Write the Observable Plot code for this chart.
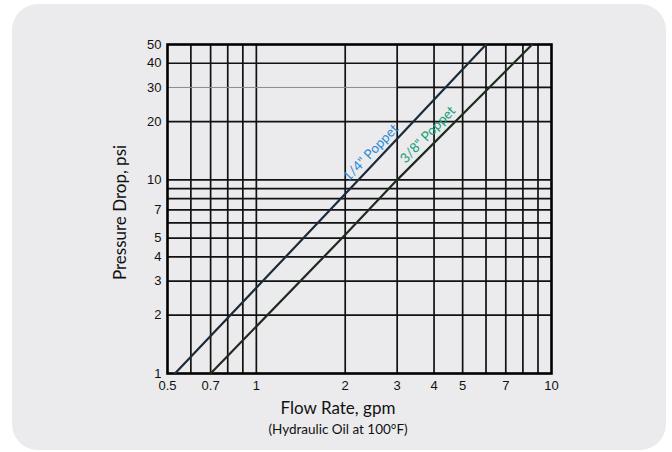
<!DOCTYPE html>
<html>
<head>
<meta charset="utf-8">
<script src="https://cdn.jsdelivr.net/npm/d3@7"></script>
<script src="https://cdn.jsdelivr.net/npm/@observablehq/plot@0.6"></script>
<style>
  html, body { margin: 0; padding: 0; background: #ffffff; }
  #wrap { position: relative; width: 672px; height: 452px; overflow: hidden; }
  #card { position: absolute; left: 12px; top: 4px; width: 654px; height: 446px; background: #ebebed; border-radius: 26px; }
  #chart { position: absolute; left: 0; top: 0; }
</style>
</head>
<body>
<div id="wrap"><div id="card"></div><div id="chart"></div></div>
<script>
// Tick labels
const flowTicks = [0.5, 0.7, 1, 2, 3, 4, 5, 7, 10];
const dropTicks = [1, 2, 3, 4, 5, 7, 10, 20, 30, 40, 50];
// Grid lines
const flowGrid = [0.6, 0.7, 0.8, 0.9, 1, 2, 3, 4, 5, 6, 7, 8, 9];
const dropGrid = [2, 3, 4, 5, 6, 7, 8, 9, 10, 20, 40];
const drop30 = [30];
const drop30GrayFrom = [0.5], drop30GrayTo = [3];
const drop30BlackFrom = [3], drop30BlackTo = [10];
// Series
const quarterFlow = [0.53, 1, 2.22, 6.0];
const quarterDrop = [1, 2.77, 10, 50];
const eighthFlow = [0.7, 2, 3.0, 8.6];
const eighthDrop = [1, 5.2, 10, 50];
// Series labels
const seriesNames = ["1/4\" Poppet", "3/8\" Poppet"];
const labelFlow = [2.44, 3.81];
const labelDrop = [13.8, 17.1];
const seriesColors = ["#2a8ad4", "#14a074"];
const lineColors = ["#1b2b3b", "#1f2b1f"];

const quarter = quarterFlow.map((x, i) => ({x, y: quarterDrop[i]}));
const eighth = eighthFlow.map((x, i) => ({x, y: eighthDrop[i]}));
const labels = seriesNames.map((t, i) => ({t, x: labelFlow[i], y: labelDrop[i], c: seriesColors[i]}));
const seg30gray = drop30.map((y, i) => ({y, x1: drop30GrayFrom[i], x2: drop30GrayTo[i]}));
const seg30black = drop30.map((y, i) => ({y, x1: drop30BlackFrom[i], x2: drop30BlackTo[i]}));

const titleFont = "Lato, 'Open Sans', sans-serif";
const tickFont = "'Liberation Sans', Arial, sans-serif";

const chart = Plot.plot({
  width: 672,
  height: 452,
  marginLeft: 167,
  marginRight: 121,
  marginTop: 44,
  marginBottom: 79,
  style: {background: "transparent", fontFamily: tickFont, fontSize: "13px", color: "#111"},
  x: {type: "log", domain: [0.5, 10], axis: null},
  y: {type: "log", domain: [1, 50], ticks: dropTicks, tickFormat: d => String(d), tickSize: 0, tickPadding: 6, label: null},
  marks: [
    Plot.ruleX(flowGrid, {x: d => d, stroke: "#111", strokeWidth: 1.7}),
    Plot.ruleY(dropGrid, {y: d => d, stroke: "#111", strokeWidth: 1.7}),
    Plot.ruleY(seg30gray, {y: "y", x1: "x1", x2: "x2", stroke: "#8a8a8a", strokeWidth: 1}),
    Plot.ruleY(seg30black, {y: "y", x1: "x1", x2: "x2", stroke: "#111", strokeWidth: 1.7}),
    Plot.frame({stroke: "#000", strokeWidth: 2.6}),
    Plot.line(quarter, {x: "x", y: "y", stroke: lineColors[0], strokeWidth: 2.2}),
    Plot.line(eighth, {x: "x", y: "y", stroke: lineColors[1], strokeWidth: 2.2}),
    Plot.text(flowTicks, {x: d => d, text: d => String(d), frameAnchor: "bottom", textAnchor: "middle", lineAnchor: "top", dy: 7, fontSize: 13, fontFamily: tickFont, fill: "#111"}),
    Plot.text(labels, {x: "x", y: "y", text: "t", fill: "c", rotate: -46, fontSize: 13.5, fontFamily: titleFont}),
    Plot.text(["Flow Rate, gpm"], {frameAnchor: "bottom", textAnchor: "middle", lineAnchor: "middle", text: d => d, dx: -21.5, dy: 35, fontSize: 17, fontFamily: titleFont, fill: "#111"}),
    Plot.text(["(Hydraulic Oil at 100°F)"], {frameAnchor: "bottom", textAnchor: "middle", lineAnchor: "middle", text: d => d, dx: -21.5, dy: 56, fontSize: 13.5, fontFamily: titleFont, fill: "#111"}),
    Plot.text(["Pressure Drop, psi"], {frameAnchor: "left", textAnchor: "middle", lineAnchor: "middle", text: d => d, rotate: -90, dx: -47, dy: 3.5, fontSize: 17, fontFamily: titleFont, fill: "#111"})
  ]
});
document.getElementById("chart").appendChild(chart);
</script>
</body>
</html>
